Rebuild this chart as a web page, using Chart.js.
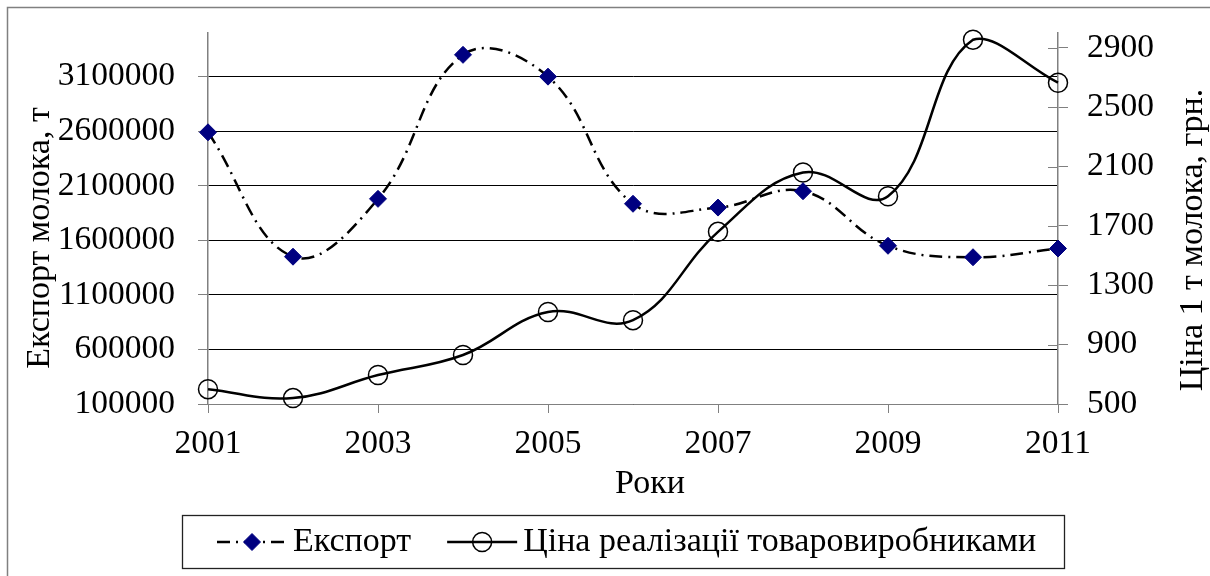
<!DOCTYPE html>
<html>
<head>
<meta charset="utf-8">
<script src="https://cdn.jsdelivr.net/npm/chart.js@4.4.1/dist/chart.umd.min.js"></script>
<style>
  html, body { margin: 0; padding: 0; background: #fff; }
  canvas { display: block; }
</style>
</head>
<body>
<canvas id="milkChart" width="1210" height="576"></canvas>
<script>
// Data
const years = [2001, 2002, 2003, 2004, 2005, 2006, 2007, 2008, 2009, 2010, 2011];
const exportValues = [2590000, 1450000, 1980000, 3300000, 3100000, 1935000, 1900000, 2050000, 1550000, 1445000, 1525000];
const priceValues = [600, 540, 695, 830, 1120, 1065, 1660, 2060, 1900, 2955, 2665];

// Axis ticks
const leftTicks = [100000, 600000, 1100000, 1600000, 2100000, 2600000, 3100000];
const rightTicks = [500, 900, 1300, 1700, 2100, 2500, 2900];
const yearStep = 2;

// Texts
const exportLabel = "Експорт";
const priceLabel = "Ціна реалізації товаровиробниками";
const leftTitle = "Експорт молока, т";
const rightTitle = "Ціна 1 т молока, грн.";
const xTitle = "Роки";

const FONT_FAMILY = "'Liberation Serif', 'Times New Roman', serif";
const TICK_SIZE = 33.5;
const TEXT_SIZE = 34;
const AXIS_GRAY = "#808080";

function toPoints(values) {
  return years.map((yr, i) => ({ x: yr, y: values[i] }));
}

// keep the plot box where the original has it
function fixWidth(w) {
  return (s) => {
    s.width = w;
    s.paddingTop = 0;
    s.paddingBottom = 0;
  };
}

// Excel-like extras: outer frame, rotated axis titles, inner ticks, boxed legend
const excelDecor = {
  id: "excelDecor",
  afterDraw(chart) {
    const ctx = chart.ctx;
    const area = chart.chartArea;
    ctx.save();

    // outer frame (right/bottom edges are cut off in the original)
    ctx.strokeStyle = AXIS_GRAY;
    ctx.lineWidth = 1.5;
    ctx.strokeRect(7.5, 7.5, 1220, 600);

    // right axis ticks that cross into the plot
    const y1 = chart.scales.y1;
    ctx.strokeStyle = AXIS_GRAY;
    ctx.lineWidth = 1;
    y1.ticks.forEach((t) => {
      const py = Math.round(y1.getPixelForValue(t.value)) + 0.5;
      ctx.beginPath();
      ctx.moveTo(area.right - 10, py);
      ctx.lineTo(area.right, py);
      ctx.stroke();
    });

    // axis titles
    ctx.fillStyle = "#000";
    ctx.font = TEXT_SIZE + "px " + FONT_FAMILY;
    ctx.textAlign = "center";
    ctx.textBaseline = "middle";
    ctx.save();
    ctx.translate(40, 238);
    ctx.rotate(-Math.PI / 2);
    ctx.fillText(leftTitle, 0, 0);
    ctx.restore();
    ctx.save();
    ctx.translate(1193, 240);
    ctx.rotate(-Math.PI / 2);
    ctx.fillText(rightTitle, 0, 0);
    ctx.restore();
    ctx.fillText(xTitle, 650, 484);

    // legend
    const legendY = 542;
    const symW = 70;
    const ds = chart.data.datasets;
    ctx.textAlign = "left";
    let x = 217;
    let lastEnd = x;
    ds.forEach((d) => {
      ctx.strokeStyle = d.borderColor;
      ctx.lineWidth = d.borderWidth;
      ctx.setLineDash(d.borderDash || []);
      ctx.beginPath();
      ctx.moveTo(x, legendY);
      ctx.lineTo(x + symW, legendY);
      ctx.stroke();
      ctx.setLineDash([]);
      const cx = x + symW / 2;
      ctx.lineWidth = d.pointBorderWidth;
      ctx.strokeStyle = d.pointBorderColor;
      ctx.fillStyle = d.pointBackgroundColor;
      ctx.beginPath();
      if (d.pointStyle === "rectRot") {
        const r = d.pointRadius;
        ctx.moveTo(cx, legendY - r);
        ctx.lineTo(cx + r, legendY);
        ctx.lineTo(cx, legendY + r);
        ctx.lineTo(cx - r, legendY);
        ctx.closePath();
      } else {
        ctx.arc(cx, legendY, d.pointRadius, 0, Math.PI * 2);
      }
      ctx.fill();
      ctx.stroke();
      ctx.fillStyle = "#000";
      const tx = x + symW + 6;
      ctx.fillText(d.label, tx, legendY);
      lastEnd = tx + ctx.measureText(d.label).width;
      x = lastEnd + 36;
    });
    ctx.strokeStyle = "#222";
    ctx.lineWidth = 1.3;
    ctx.strokeRect(182.5, 515.5, Math.round(lastEnd + 28 - 182), 53);

    ctx.restore();
  },
};

const ctx = document.getElementById("milkChart");
const milkChart = new Chart(ctx, {
  type: "line",
  data: {
    datasets: [
      {
        label: exportLabel,
        data: toPoints(exportValues),
        yAxisID: "y",
        borderColor: "#000",
        borderWidth: 2.5,
        borderDash: [13, 6, 2, 6],
        tension: 0.4,
        pointStyle: "rectRot",
        pointRadius: 8.5,
        pointBackgroundColor: "#000080",
        pointBorderColor: "#000080",
        pointBorderWidth: 1,
        clip: false,
      },
      {
        label: priceLabel,
        data: toPoints(priceValues),
        yAxisID: "y1",
        borderColor: "#000",
        borderWidth: 2.5,
        tension: 0.4,
        pointStyle: "circle",
        pointRadius: 9.5,
        pointBackgroundColor: "rgba(0,0,0,0)",
        pointBorderColor: "#000",
        pointBorderWidth: 1.5,
        clip: false,
      },
    ],
  },
  options: {
    responsive: false,
    animation: false,
    devicePixelRatio: 1,
    layout: { padding: { top: 33, left: 0, right: 0, bottom: 0 } },
    plugins: {
      legend: { display: false },
      title: { display: false },
      tooltip: { enabled: false },
    },
    scales: {
      x: {
        type: "linear",
        min: years[0],
        max: years[years.length - 1],
        ticks: {
          stepSize: yearStep,
          padding: 11,
          color: "#000",
          font: { family: FONT_FAMILY, size: TICK_SIZE },
          callback: (v) => String(v),
        },
        grid: { drawOnChartArea: false, tickLength: 9, color: AXIS_GRAY },
        border: { color: AXIS_GRAY, width: 1 },
        afterFit: (s) => {
          s.height = 172;
          s.paddingLeft = 0;
          s.paddingRight = 0;
        },
      },
      y: {
        position: "left",
        min: 100000,
        max: 3500000,
        afterBuildTicks: (s) => { s.ticks = leftTicks.map((v) => ({ value: v })); },
        ticks: {
          padding: 23,
          color: "#000",
          font: { family: FONT_FAMILY, size: TICK_SIZE },
          callback: (v) => String(v),
        },
        grid: { color: "#000", tickColor: AXIS_GRAY, tickLength: 10, lineWidth: 1 },
        border: { color: AXIS_GRAY, width: 1.5 },
        afterFit: fixWidth(208),
      },
      y1: {
        position: "right",
        min: 500,
        max: 3000,
        afterBuildTicks: (s) => { s.ticks = rightTicks.map((v) => ({ value: v })); },
        ticks: {
          padding: 19,
          color: "#000",
          font: { family: FONT_FAMILY, size: TICK_SIZE },
          callback: (v) => String(v),
        },
        grid: { drawOnChartArea: false, tickLength: 10, color: AXIS_GRAY },
        border: { color: AXIS_GRAY, width: 1.5 },
        afterFit: fixWidth(152),
      },
    },
  },
  plugins: [excelDecor],
});
</script>
</body>
</html>
